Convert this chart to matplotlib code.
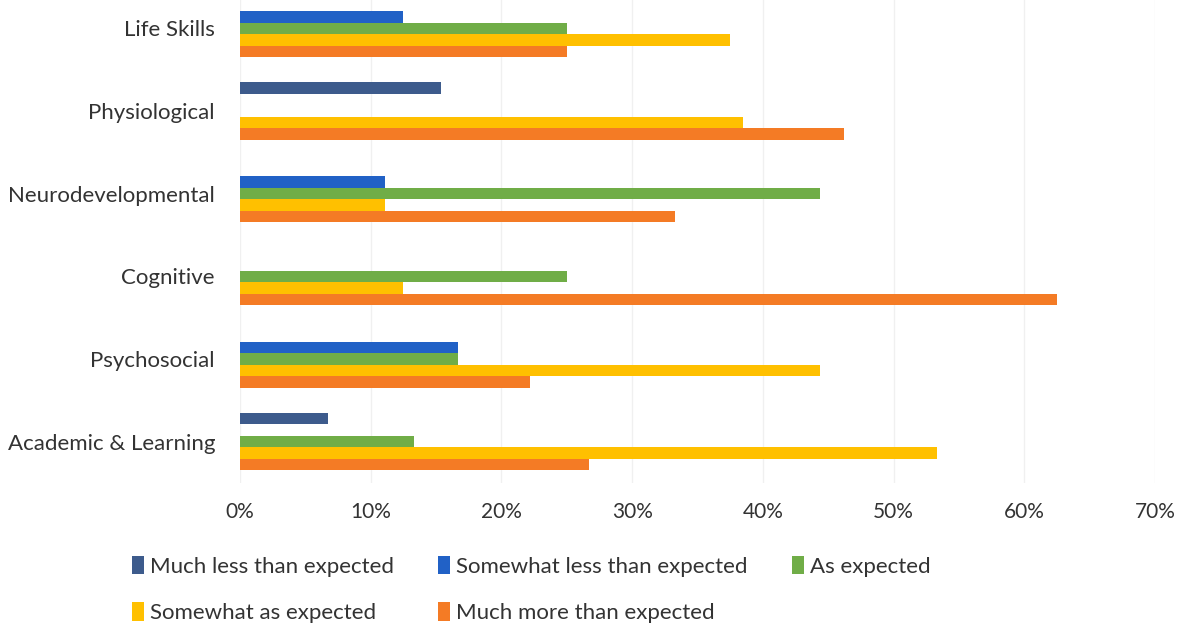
import matplotlib.pyplot as plt
import numpy as np

categories = ["Life Skills", "Physiological", "Neurodevelopmental", "Cognitive",
              "Psychosocial", "Academic & Learning"]
series = ["Much less than expected", "Somewhat less than expected", "As expected",
          "Somewhat as expected", "Much more than expected"]

# percent of responses per category, same order as categories
much_less = [0, 15.4, 0, 0, 0, 6.7]
somewhat_less = [12.5, 0, 11.1, 0, 16.7, 0]
as_expected = [25.0, 0, 44.4, 25.0, 16.7, 13.3]
somewhat_as = [37.5, 38.5, 11.1, 12.5, 44.4, 53.3]
much_more = [25.0, 46.2, 33.3, 62.5, 22.2, 26.7]

values = [much_less, somewhat_less, as_expected, somewhat_as, much_more]
colors = ["#3D5B8C", "#2161C6", "#70AD47", "#FFC000", "#F47B25"]

plt.rcParams['font.family'] = ['Lato', 'DejaVu Sans']

fig = plt.figure(figsize=(11.84, 6.27), dpi=100)
ax = fig.add_axes([240 / 1184, 1 - 483 / 627, 915 / 1184, 496 / 627])

n = len(categories)
y = np.arange(n)
h = 0.139
for i, (name, vals) in enumerate(zip(series, values)):
    offs = (i - 2) * h
    ax.barh(y + offs, vals, height=h, color=colors[i], label=name, zorder=2)

ax.set_ylim(n - 0.5, -0.5)
ax.set_xlim(0, 70)
ax.set_xticks(np.arange(0, 71, 10))
ax.set_xticklabels([f"{v}%" for v in range(0, 71, 10)])
ax.set_yticks(y)
ax.set_yticklabels(categories)
ax.tick_params(axis='x', length=0, labelsize=15, colors='#333333', pad=14)
ax.tick_params(axis='y', length=0, labelsize=16, colors='#333333', pad=18)
ax.grid(axis='x', color='#F0F0F0', linewidth=1, zorder=0)
for s in ax.spines.values():
    s.set_visible(False)

handles, labels = ax.get_legend_handles_labels()
order = [0, 3, 1, 4, 2]
fig.legend([handles[i] for i in order], [labels[i] for i in order],
           ncol=3, loc='upper left', bbox_to_anchor=(112 / 1184, 1 - 536 / 627),
           frameon=False, fontsize=16, handlelength=0.55, handleheight=0.9,
           handletextpad=0.25, columnspacing=2.0, labelspacing=1.15,
           labelcolor='#333333')

plt.savefig('out.png', dpi=100)
